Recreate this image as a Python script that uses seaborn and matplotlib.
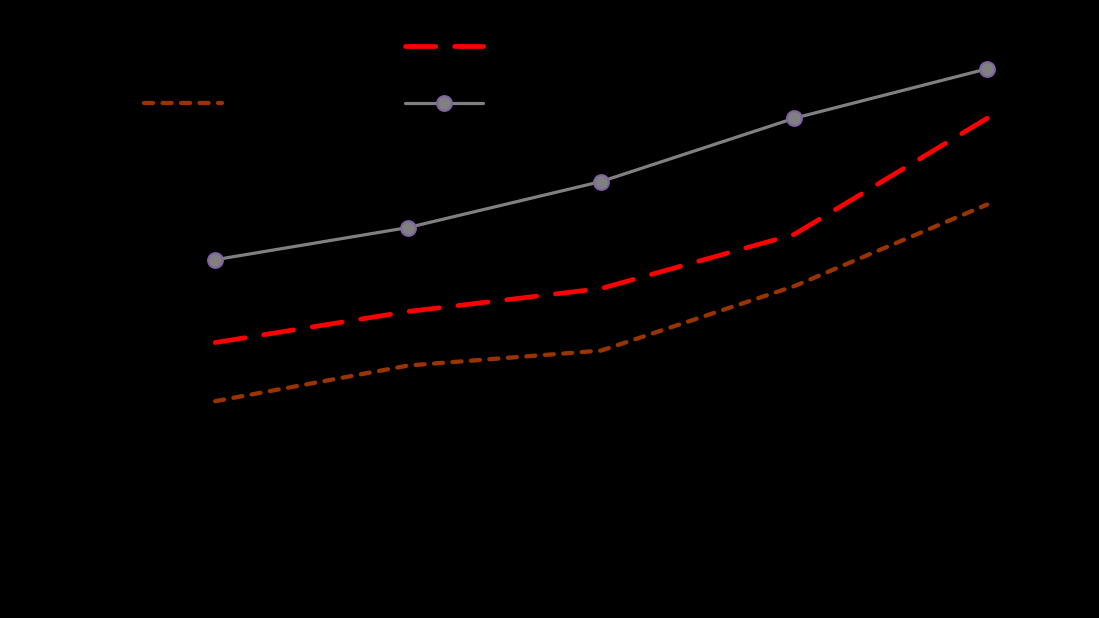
import pandas as pd
import matplotlib.pyplot as plt
import seaborn as sns

# data (Abitazioni is drawn in black on black, values estimated)
periodi = ["II04", "II05", "II06", "II07", "II08"]
abitazioni = [4.2, 4.45, 4.7, 5.1, 5.6]
uffici = [5.20, 5.47, 5.67, 6.14, 7.15]
negozi = [4.69, 5.00, 5.13, 5.69, 6.40]
capannoni = [5.92, 6.20, 6.60, 7.15, 7.58]

df = pd.DataFrame({"Periodo": periodi, "Abitazioni": abitazioni, "Uffici": uffici,
                   "Negozi": negozi, "Capannoni": capannoni})

sns.set_theme(style="white")
plt.rcParams["font.family"] = ["Liberation Serif", "DejaVu Serif"]

fig = plt.figure(figsize=(10.99, 6.18), dpi=100, facecolor="black")
ax = fig.add_axes([0.108, 0.1294, 0.878, 0.8374], facecolor="black")

sns.lineplot(data=df, x="Periodo", y="Abitazioni", ax=ax, color="black",
             linewidth=3.4, label="Abitazioni")
sns.lineplot(data=df, x="Periodo", y="Negozi", ax=ax, color="#993300",
             linewidth=3.1, dashes=(2.1, 2.2), dash_capstyle="round", label="Negozi")
sns.lineplot(data=df, x="Periodo", y="Uffici", ax=ax, color="#FF0000",
             linewidth=3.4, dashes=(6.4, 4.0), dash_capstyle="round", label="Uffici")
sns.lineplot(data=df, x="Periodo", y="Capannoni", ax=ax, color="#808080",
             linewidth=2.3, marker="o", markersize=10.5, markerfacecolor="#808080",
             markeredgecolor="#8064A2", markeredgewidth=1.6, label="Capannoni")

ax.set_xlim(-0.5, 4.5)
ax.set_ylim(3.5, 8.0)
ax.set_yticks([3.5, 4.5, 5.5, 6.5, 7.5])
ax.set_yticklabels(["3,5", "4,5", "5,5", "6,5", "7,5"], family="Liberation Sans", fontsize=16)
ax.tick_params(axis="y", length=0, pad=20, colors="black")
ax.tick_params(axis="x", length=0, pad=22, colors="black", labelsize=22)
ax.set_xlabel("")
ax.set_ylabel("Mesi", family="Liberation Sans", fontsize=21, color="black")
ax.yaxis.set_label_coords(-0.096, 0.522)
for s in ax.spines.values():
    s.set_visible(False)

leg = ax.legend(loc="upper left", bbox_to_anchor=(144 / 1099, 1 - 35 / 618),
                bbox_transform=fig.transFigure, ncol=2, frameon=False,
                fontsize=23, handlelength=2.45, handletextpad=0.55,
                columnspacing=0.95, labelspacing=0.85, borderpad=0, borderaxespad=0)
for t in leg.get_texts():
    t.set_color("black")

fig.savefig("out.png", dpi=100, facecolor="black")
